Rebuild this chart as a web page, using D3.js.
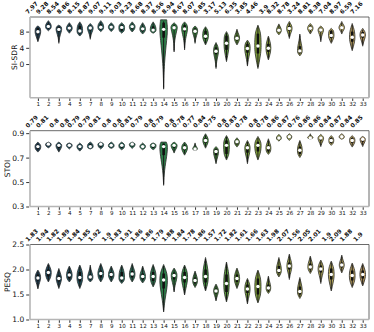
<!DOCTYPE html>
<html><head><meta charset="utf-8">
<script src="https://cdn.jsdelivr.net/npm/d3@7"></script>
<style>body{margin:0;background:#fff}svg{display:block;font-family:"DejaVu Sans",sans-serif}</style>
</head><body><svg id="c" width="374" height="332"></svg>
<script>
const categories = [1,2,3,4,5,7,8,9,10,11,12,13,14,15,16,17,18,19,20,21,22,23,24,25,26,27,28,29,30,31,32,33];

const sdrMed = [7.97,9.28,8.54,8.86,8.15,8.87,9.07,9.11,9.03,9.23,8.68,8.37,8.56,8.94,8.67,8.07,6.85,3.17,5.13,6.35,3.85,4.46,3.9,8.32,8.78,3.24,8.81,8.38,7.04,8.97,6.59,7.16];
const sdrLo  = [5.5,8.2,5.1,7.6,6.9,6.1,8.0,8.0,7.6,7.9,7.4,7.6,-6.2,3.0,3.5,5.1,4.7,-1.1,0.6,4.7,-0.5,-1.1,1.0,7.2,6.3,2.0,7.4,5.5,5.1,7.4,3.3,4.4];
const sdrHi  = [9.4,10.7,9.6,10.2,10.4,10.0,10.7,10.2,10.2,10.4,10.2,10.4,10.9,10.2,10.4,9.4,9.2,5.3,8.0,8.6,5.9,9.6,6.9,9.9,10.5,7.4,10.0,9.4,8.8,10.5,10.0,8.8];
const sdrQ1  = [7.3,8.8,8.0,8.4,7.6,8.3,8.6,8.7,8.2,8.7,8.1,8.0,6.5,8.5,8.0,7.6,6.2,2.4,3.5,5.8,2.8,2.6,3.0,7.9,8.2,2.7,8.4,7.9,6.4,8.6,5.5,6.5];
const sdrQ3  = [8.9,9.8,9.2,9.3,9.4,9.3,9.8,9.5,9.6,9.6,9.2,9.3,10.2,9.5,9.6,8.8,8.2,4.1,7.0,7.0,5.0,7.5,5.0,8.8,9.4,4.4,9.3,8.8,8.2,9.4,8.0,7.9];
const sdrW   = [0.7,0.72,0.7,0.72,0.7,0.72,0.72,0.72,0.72,0.72,0.7,0.72,0.95,0.8,0.75,0.65,0.72,0.62,0.62,0.65,0.68,0.8,0.62,0.62,0.68,0.58,0.68,0.68,0.68,0.7,0.68,0.68];
const sdrCap = [0,0,0,0,0,0,0,0,0,0,0,0,0.8,0,0,0,0,0,0,0,0,0,0,0,0,0,0,0,0,0,0,0];

const stoiMed = [0.79,0.81,0.8,0.8,0.79,0.79,0.81,0.8,0.8,0.81,0.79,0.8,0.79,0.8,0.78,0.77,0.84,0.75,0.8,0.83,0.78,0.8,0.78,0.86,0.87,0.76,0.86,0.86,0.84,0.87,0.84,0.85];
const stoiLo  = [0.745,0.78,0.745,0.77,0.753,0.77,0.77,0.775,0.764,0.775,0.764,0.764,0.473,0.737,0.72,0.758,0.777,0.65,0.68,0.786,0.65,0.68,0.726,0.835,0.84,0.70,0.85,0.79,0.80,0.85,0.786,0.79];
const stoiHi  = [0.827,0.827,0.827,0.82,0.82,0.827,0.827,0.827,0.827,0.827,0.82,0.82,0.827,0.827,0.827,0.82,0.895,0.79,0.88,0.862,0.84,0.873,0.854,0.89,0.895,0.84,0.895,0.89,0.88,0.895,0.88,0.873];
const stoiQ1  = [0.77,0.795,0.78,0.79,0.775,0.78,0.79,0.785,0.78,0.795,0.78,0.78,0.72,0.78,0.76,0.765,0.82,0.72,0.73,0.81,0.74,0.75,0.75,0.85,0.86,0.73,0.86,0.84,0.82,0.86,0.82,0.83];
const stoiQ3  = [0.805,0.815,0.81,0.81,0.8,0.81,0.815,0.81,0.81,0.815,0.8,0.81,0.815,0.81,0.8,0.78,0.86,0.77,0.84,0.84,0.80,0.83,0.80,0.87,0.88,0.79,0.87,0.87,0.86,0.88,0.86,0.86];
const stoiW   = [0.72,0.72,0.72,0.72,0.72,0.72,0.72,0.72,0.72,0.72,0.72,0.72,0.95,0.75,0.72,0.6,0.68,0.62,0.72,0.62,0.66,0.8,0.62,0.62,0.62,0.6,0.68,0.7,0.62,0.65,0.68,0.66];
const stoiCap = [0,0,0,0,0,0,0,0,0,0,0,0,0.7,0,0,0,0,0,0,0,0,0,0,0,0,0,0,0,0,0,0,0];

const pesqMed = [1.83,1.94,1.82,1.89,1.84,1.85,1.92,1.9,1.83,1.91,1.86,1.86,1.79,1.88,1.84,1.78,1.86,1.57,1.72,1.82,1.61,1.66,1.63,1.98,2.07,1.56,2.05,2.01,1.9,2.09,1.88,1.9];
const pesqLo  = [1.61,1.75,1.62,1.75,1.62,1.75,1.75,1.75,1.72,1.75,1.73,1.65,1.15,1.55,1.49,1.64,1.57,1.37,1.35,1.62,1.31,1.33,1.52,1.85,1.8,1.42,1.92,1.72,1.57,1.93,1.64,1.67];
const pesqHi  = [1.99,2.12,2.02,2.07,2.09,2.09,2.12,2.07,2.09,2.12,2.07,2.1,2.1,2.03,2.09,1.97,2.24,1.71,2.15,2.03,1.82,1.99,1.87,2.24,2.31,1.84,2.27,2.19,2.17,2.29,2.13,2.12];
const pesqQ1  = [1.78,1.86,1.76,1.82,1.76,1.8,1.84,1.84,1.78,1.84,1.8,1.77,1.62,1.8,1.74,1.72,1.74,1.52,1.55,1.75,1.53,1.5,1.58,1.93,2.0,1.5,2.0,1.94,1.8,2.04,1.78,1.82];
const pesqQ3  = [1.9,2.0,1.88,1.95,1.95,1.9,1.98,1.95,1.95,1.97,1.92,1.95,1.92,1.94,1.95,1.84,2.0,1.62,1.9,1.9,1.7,1.82,1.7,2.07,2.14,1.66,2.12,2.08,2.02,2.14,1.98,1.98];
const pesqW   = [0.68,0.72,0.66,0.7,0.72,0.66,0.72,0.7,0.7,0.7,0.7,0.72,0.95,0.72,0.75,0.6,0.68,0.6,0.68,0.66,0.66,0.78,0.58,0.62,0.62,0.6,0.62,0.68,0.72,0.62,0.72,0.7];
const pesqCap = [0,0,0,0,0,0,0,0,0,0,0,0,0,0,0,0,0,0,0,0,0,0,0,0,0,0,0,0,0,0,0,0];

const sdrTicks = [0,4,8];
const stoiTicks = [0.3,0.5,0.7,0.9];
const pesqTicks = [1.0,1.5,2.0,2.5];

const svg = d3.select("#c");
const x = d3.scalePoint().domain(categories).range([37.9, 362.7]);
const step = x.step();
const maxHalf = step * 0.4;
const color = d3.scaleLinear()
  .domain([0, 5, 10, 13, 17, 21, 25, 29, 31])
  .range(["#20435a", "#235a62", "#2a7356", "#2f8443", "#47903a", "#83a23a", "#aaaa4e", "#bcaa62", "#bb9a5e"])
  .interpolate(d3.interpolateRgb);
const L = 30, R = 369;

const panels = [
  {label:"SI-SDR", med:sdrMed, lo:sdrLo, hi:sdrHi, q1:sdrQ1, q3:sdrQ3, w:sdrW, cap:sdrCap, domain:[-8.3,11.6], ticks:sdrTicks, fmt:d3.format("d"), top:17, bottom:97.7},
  {label:"STOI", med:stoiMed, lo:stoiLo, hi:stoiHi, q1:stoiQ1, q3:stoiQ3, w:stoiW, cap:stoiCap, domain:[0.3,0.92], ticks:stoiTicks, fmt:d3.format(".1f"), top:130.7, bottom:206.5},
  {label:"PESQ", med:pesqMed, lo:pesqLo, hi:pesqHi, q1:pesqQ1, q3:pesqQ3, w:pesqW, cap:pesqCap, domain:[1.0,2.5], ticks:pesqTicks, fmt:d3.format(".1f"), top:244.5, bottom:319.5}
];

panels.forEach(p => {
  const y = d3.scaleLinear().domain(p.domain).range([p.bottom, p.top]);
  const g = svg.append("g");

  const area = d3.area().curve(d3.curveBasis)
    .y(d => y(d.v)).x0(d => d.cx - d.w).x1(d => d.cx + d.w);
  categories.forEach((c, i) => {
    const cx = x(c);
    const W = p.w[i] * maxHalf;
    const lo = p.lo[i], hi = p.hi[i], q1 = p.q1[i], q3 = p.q3[i], md = p.med[i];
    const iqr = q3 - q1;
    const tl = Math.min(1, iqr / Math.max(1e-6, q1 - lo)) * 0.45;
    const cap = p.cap[i];
    const tu = cap > 0 ? cap : Math.min(1, iqr / Math.max(1e-6, hi - q3)) * 0.45;
    const prof = [
      {v:lo, w:0}, {v:(lo+q1)/2, w:W*tl}, {v:q1, w:W*0.85}, {v:md, w:W},
      {v:q3, w:W*0.85}, {v:(q3+hi)/2, w:W*tu}
    ];
    if (cap > 0) prof.push({v:hi, w:W*cap}, {v:hi, w:W*cap});
    prof.push({v:hi, w:0});
    const pts = prof.map(d => ({...d, cx}));
    g.append("path").attr("d", area(pts))
      .attr("fill", color(i)).attr("stroke", "#2a2a2a").attr("stroke-width", 0.8);
    g.append("line").attr("x1", cx).attr("x2", cx)
      .attr("y1", y(lo) - 1.5).attr("y2", y(hi) + 1.5)
      .attr("stroke", "#1a1a1a").attr("stroke-width", 1);
    g.append("rect").attr("x", cx - 1.3).attr("width", 2.6)
      .attr("y", y(q3)).attr("height", Math.max(0.5, y(q1) - y(q3)))
      .attr("fill", "#111");
    g.append("circle").attr("cx", cx).attr("cy", y(md)).attr("r", 1.7)
      .attr("fill", "#fff").attr("stroke", "none");
    const t = g.append("text").text(String(md))
      .attr("font-size", 6).attr("font-weight", "bold").attr("fill", "#111");
    const len = t.node().getComputedTextLength();
    const sx = x(c) - len * 0.707 + 0.5, sy = p.top - 2.5;
    t.attr("transform", `translate(${sx},${sy}) rotate(-45)`);
  });

  svg.append("line").attr("x1", L).attr("x2", R).attr("y1", p.top).attr("y2", p.top).attr("stroke", "#444").attr("stroke-width", 0.8);
  svg.append("line").attr("x1", R).attr("x2", R).attr("y1", p.top).attr("y2", p.bottom).attr("stroke", "#444").attr("stroke-width", 0.8);
  svg.append("line").attr("x1", L).attr("x2", R).attr("y1", p.bottom).attr("y2", p.bottom).attr("stroke", "#b5b5b5").attr("stroke-width", 1.6);
  svg.append("line").attr("x1", L).attr("x2", L).attr("y1", p.top).attr("y2", p.bottom).attr("stroke", "#b5b5b5").attr("stroke-width", 1.6);

  const ya = svg.append("g").attr("transform", `translate(${L - 0.8},0)`)
    .call(d3.axisLeft(y).tickValues(p.ticks).tickFormat(p.fmt).tickSize(3).tickPadding(2));
  ya.select(".domain").remove();
  ya.selectAll("text").attr("font-size", 7.5).attr("font-family", "DejaVu Sans").attr("fill", "#111");
  ya.selectAll("line").attr("stroke", "#333");

  const xa = svg.append("g").attr("transform", `translate(0,${p.bottom + 0.8})`)
    .call(d3.axisBottom(x).tickSize(2.5).tickPadding(1.5));
  xa.select(".domain").remove();
  xa.selectAll("text").attr("font-size", 5.6).attr("font-family", "DejaVu Sans").attr("fill", "#111");
  xa.selectAll("line").attr("stroke", "#333");

  const bb = ya.node().getBBox();
  svg.append("text").text(p.label)
    .attr("transform", `translate(${L - 0.8 + bb.x - 2},${(p.top + p.bottom) / 2}) rotate(-90)`)
    .attr("text-anchor", "middle").attr("font-size", 7.5).attr("fill", "#111");
});
</script></body></html>
